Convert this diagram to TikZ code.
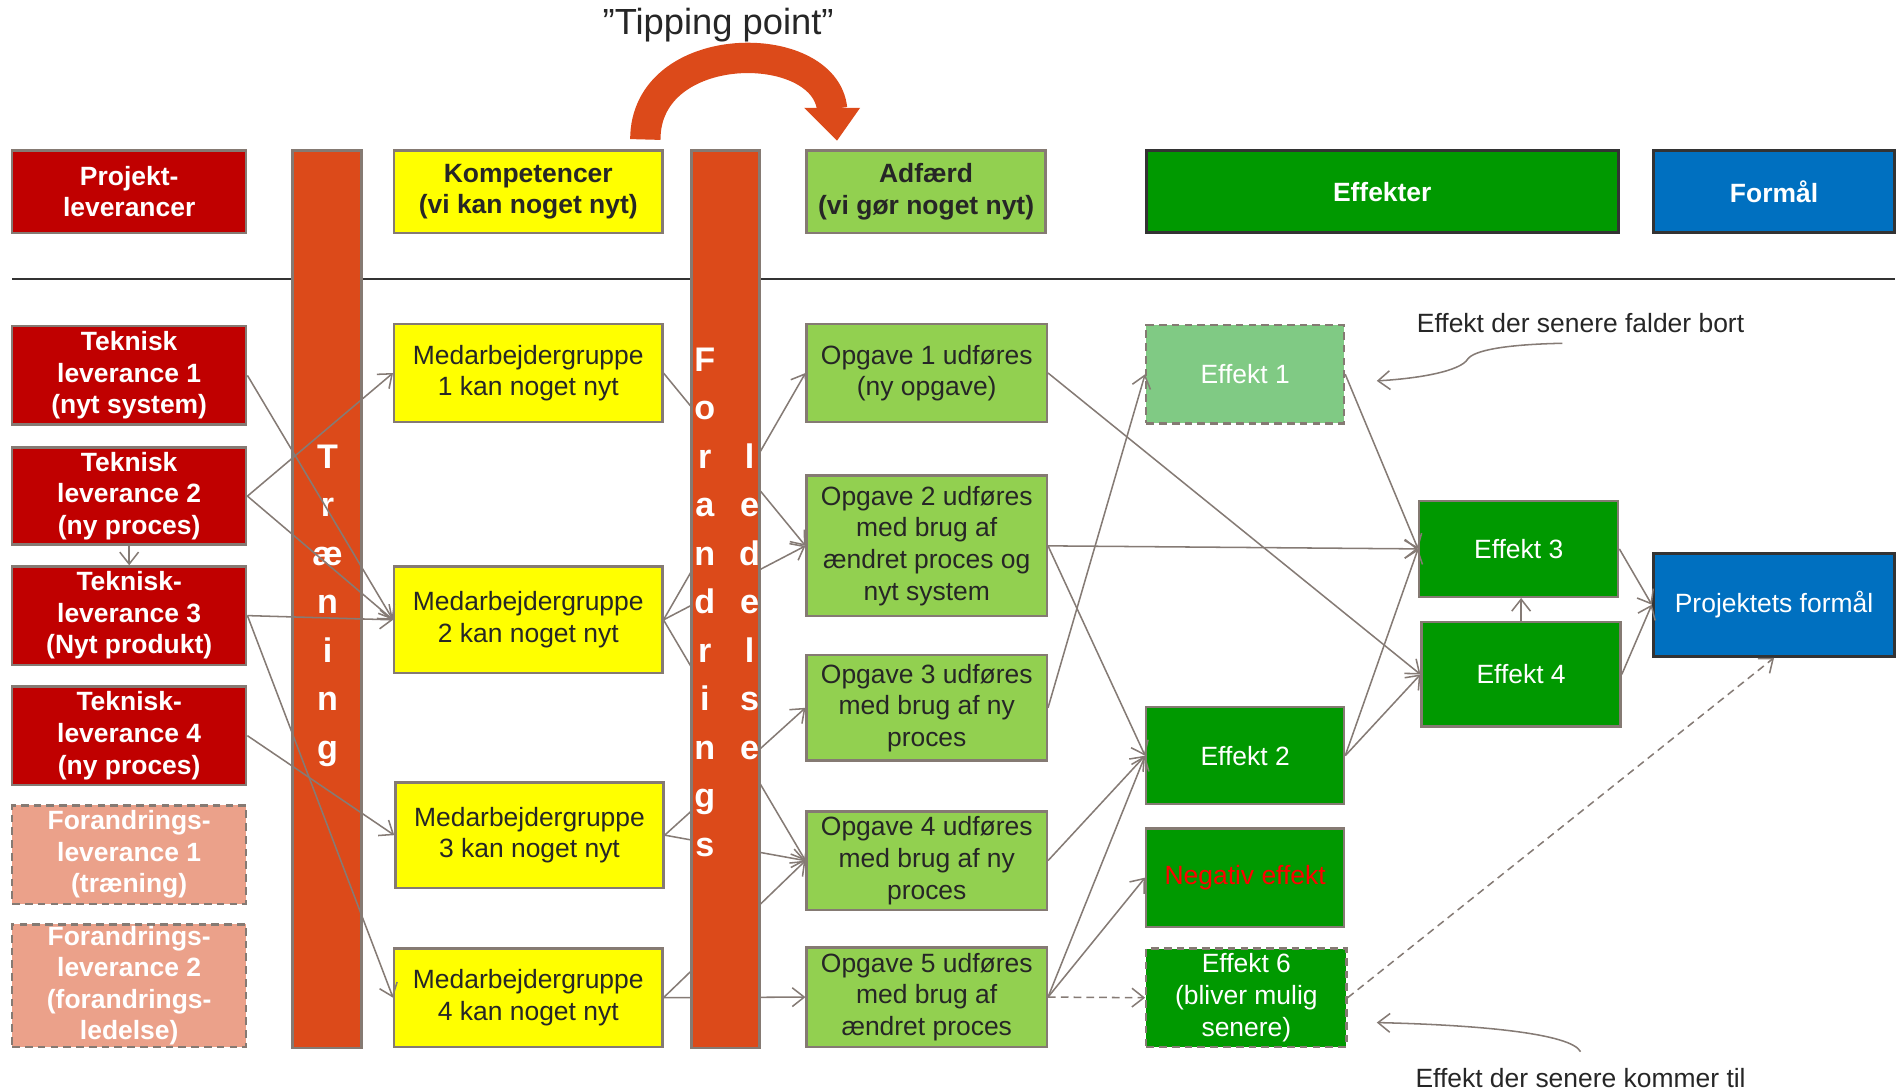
\documentclass[tikz,border=0pt]{standalone}
\usepackage{fontspec}
\setmainfont{Liberation Sans}
\usetikzlibrary{arrows.meta}
\definecolor{dred}{HTML}{C00000}
\definecolor{barc}{HTML}{DC4A1A}
\definecolor{yel}{HTML}{FFFF00}
\definecolor{lgreen}{HTML}{92D050}
\definecolor{dgreen}{HTML}{009900}
\definecolor{fgreen}{HTML}{80CA84}
\definecolor{blueb}{HTML}{0070C0}
\definecolor{salmon}{HTML}{EBA18A}
\definecolor{bgray}{HTML}{857A73}
\definecolor{cgray}{HTML}{857B75}
\definecolor{txt}{HTML}{262626}
\definecolor{dk}{HTML}{333333}
\definecolor{redtxt}{HTML}{FF0000}
\tikzset{
  box/.style={draw=bgray, line width=1.4pt, inner sep=0pt, align=center,
    font=\fontsize{15.5}{18.5}\selectfont, text=txt},
  bbox/.style={box, font=\fontsize{15.5}{18.5}\selectfont\bfseries},
  sz/.style 2 args={minimum width=#1*0.025cm, minimum height=#2*0.025cm},
  dbox/.style={dash pattern=on 4.5pt off 3pt},
  darkbox/.style={draw=dk, line width=1.8pt},
  conn/.style={draw=cgray, line width=0.9pt, -{Straight Barb[length=7pt,width=11pt]}},
  dconn/.style={conn, dash pattern=on 4.5pt off 3pt},
  barletter/.style={text=white, font=\fontsize{20}{24}\selectfont\bfseries, inner sep=0pt, anchor=base},
  note/.style={text=txt, font=\fontsize{15.5}{18.5}\selectfont, inner sep=0pt},
}
\begin{document}
\begin{tikzpicture}[x=0.025cm, y=-0.025cm]
\useasboundingbox (0,0) rectangle (1568,900);
% tipping point
\node[note, font=\fontsize{21.3}{25}\selectfont] (tip) at (592,21) {”Tipping point”};
\draw[barc, line width=0.625cm] (532,115) .. controls (532,30) and (680,30) .. (686,90);
\fill[barc] (663,89) -- (709,89) -- (690,116) -- cycle;
% rule
\coordinate (rl) at (10,230); \coordinate (rr) at (1562,230);
\draw[dk, line width=1.4pt] (rl) -- (rr);
% training bar
\node[box, fill=barc, sz={57}{740}] (tbar) at (269.5,494) {};
\foreach \l [count=\i from 0] in {T,r,æ,n,i,n,g}
  \node[barletter] (tl\i) at (270,{386+40*\i}) {\l};
% headers
\node[bbox, fill=dred, text=white, sz={193}{68}] (ph) at (106.5,158) {Projekt-\\leverancer};
\node[bbox, fill=yel, sz={221}{68}] (kh) at (435.5,158) {Kompetencer\\(vi kan noget nyt)};
\node[bbox, fill=lgreen, sz={197}{68}] (ah) at (763.5,158) {Adfærd\\(vi gør noget nyt)};
\node[bbox, darkbox, fill=dgreen, text=white, sz={389}{68}] (eh) at (1139.5,158) {Effekter};
\node[bbox, darkbox, fill=blueb, text=white, sz={199}{68}] (fh) at (1462.5,158) {Formål};
% left column
\node[bbox, fill=dred, text=white, sz={193}{81}] (t1) at (106.5,309.5) {Teknisk\\leverance 1\\(nyt system)};
\node[bbox, fill=dred, text=white, sz={193}{80}] (t2) at (106.5,409) {Teknisk\\leverance 2\\(ny proces)};
\node[bbox, fill=dred, text=white, sz={193}{81}] (t3) at (106.5,507.5) {Teknisk-\\leverance 3\\(Nyt produkt)};
\node[bbox, fill=dred, text=white, sz={193}{81}] (t4) at (106.5,606.5) {Teknisk-\\leverance 4\\(ny proces)};
\node[bbox, dbox, fill=salmon, text=white, sz={193}{81}] (f1) at (106.5,704.5) {Forandrings-\\leverance 1\\(træning)};
\node[bbox, dbox, fill=salmon, text=white, sz={193}{101}] (f2) at (106.5,812.5) {Forandrings-\\leverance 2\\(forandrings-\\ledelse)};
% competences
\node[box, fill=yel, sz={221}{81}] (m1) at (435.5,307.5) {Medarbejdergruppe\\1 kan noget nyt};
\node[box, fill=yel, sz={221}{88}] (m2) at (435.5,511) {Medarbejdergruppe\\2 kan noget nyt};
\node[box, fill=yel, sz={221}{87}] (m3) at (436.5,688.5) {Medarbejdergruppe\\3 kan noget nyt};
\node[box, fill=yel, sz={221}{81}] (m4) at (435.5,822.5) {Medarbejdergruppe\\4 kan noget nyt};
% tasks
\node[box, fill=lgreen, sz={198}{81}] (o1) at (764,307.5) {Opgave 1 udføres\\(ny opgave)};
\node[box, fill=lgreen, sz={198}{116}] (o2) at (764,450) {Opgave 2 udføres\\med brug af\\ændret proces og\\nyt system};
\node[box, fill=lgreen, sz={198}{87}] (o3) at (764,583.5) {Opgave 3 udføres\\med brug af ny\\proces};
\node[box, fill=lgreen, sz={198}{81}] (o4) at (764,709.5) {Opgave 4 udføres\\med brug af ny\\proces};
\node[box, fill=lgreen, sz={198}{82}] (o5) at (764,822) {Opgave 5 udføres\\med brug af\\ændret proces};
% competences -> tasks (behind change bar)
\draw[conn] (m1.east) -- (o2.west);
\draw[conn] (m2.east) -- (o1.west);
\draw[conn] (m2.east) -- (o2.west);
\draw[conn] (m2.east) -- (o4.west);
\draw[conn] (m3.east) -- (o3.west);
\draw[conn] (m3.east) -- (o4.west);
\draw[conn] (m4.east) -- (o4.west);
\draw[conn] (m4.east) -- (o5.west);
% change management bar
\node[box, fill=barc, sz={56}{740}] (fbar) at (598,494) {};
\foreach \l [count=\i from 0] in {F,o,r,a,n,d,r,i,n,g,s}
  \node[barletter] (fl\i) at (581,{306+40*\i}) {\l};
\foreach \l [count=\i from 0] in {l,e,d,e,l,s,e}
  \node[barletter] (ll\i) at (618,{386+40*\i}) {\l};
% deliverables -> competences
\draw[conn] (t1.east) -- (m2.west);
\draw[conn] (t2.east) -- (m1.west);
\draw[conn] (t2.east) -- (m2.west);
\draw[conn] (t3.east) -- (m2.west);
\draw[conn] (t3.east) -- (m4.west);
\draw[conn] (t4.east) -- (m3.west);
\draw[conn] (t2.south) -- (t3.north);
% effects
\node[box, dbox, fill=fgreen, text=white, sz={163}{81}] (e1) at (1026.5,308.5) {Effekt 1};
\node[box, fill=dgreen, text=white, sz={163}{80}] (e2) at (1026.5,623) {Effekt 2};
\node[box, fill=dgreen, text=redtxt, sz={163}{81}] (en) at (1026.5,723.5) {Negativ effekt};
\node[box, dbox, fill=dgreen, text=white, sz={165}{81}] (e6) at (1027.5,822.5) {Effekt 6\\(bliver mulig\\senere)};
\node[box, fill=dgreen, text=white, sz={164}{79}] (e3) at (1252,452.5) {Effekt 3};
\node[box, fill=dgreen, text=white, sz={164}{86}] (e4) at (1254,556) {Effekt 4};
\node[box, darkbox, fill=blueb, text=white, sz={199}{85}] (pf) at (1462.5,498.5) {Projektets formål};
% tasks -> effects
\draw[conn] (o1.east) -- (e4.west);
\draw[conn] (o2.east) -- (e3.west);
\draw[conn] (o2.east) -- (e2.west);
\draw[conn] (o3.east) -- (e1.west);
\draw[conn] (o4.east) -- (e2.west);
\draw[conn] (o5.east) -- (e2.west);
\draw[conn] (o5.east) -- (en.west);
\draw[dconn] (o5.east) -- (e6.west);
% effects -> effects / purpose
\draw[conn] (e1.east) -- (e3.west);
\draw[conn] (e2.east) -- (e3.west);
\draw[conn] (e2.east) -- (e4.west);
\draw[conn] (e4.north) -- (e4.north |- e3.south);
\draw[conn] (e3.east) -- (pf.west);
\draw[conn] (e4.east) -- (pf.west);
\draw[dconn] (e6.east) -- (pf.south);
% notes
\node[note] (n1) at (1303,266) {Effekt der senere falder bort};
\node[note] (n2) at (1303,889) {Effekt der senere kommer til};
\coordinate (n1s) at (1288,283); \coordinate (n1e) at (1135,314);
\coordinate (n2s) at (1303,867); \coordinate (n2e) at (1135,843);
\draw[conn] (n1s) .. controls (1240,284) and (1215,289) .. (1210,296) .. controls (1204,306) and (1170,312) .. (n1e);
\draw[conn] (n2s) .. controls (1295,852) and (1220,845) .. (n2e);
\end{tikzpicture}
\end{document}
